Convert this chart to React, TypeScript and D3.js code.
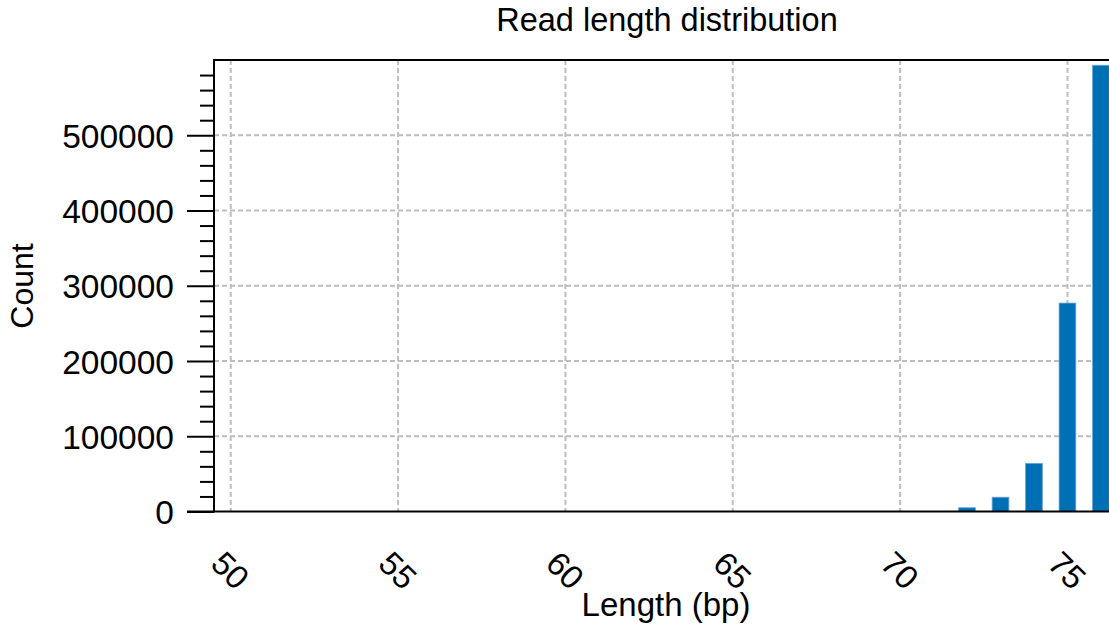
import React, { useRef, useEffect } from "react";
import * as d3 from "d3";

// read lengths (bp) and counts
const lengths = [72, 73, 74, 75, 76];
const counts = [5000, 19000, 64000, 277000, 593000];
const xTicks = [50, 55, 60, 65, 70, 75];
const yTicks = [0, 100000, 200000, 300000, 400000, 500000];

const width = 1109;
const height = 629;
const margin = { top: 60, left: 214, bottom: 511.5, right: 1121 };
const font = "'Liberation Sans', Arial, sans-serif";

const App = () => {
  let ref = useRef(null);

  useEffect(() => {
    let svg = d3.select(ref.current);
    svg.selectAll("*").remove();

    let x = d3.scaleLinear().domain([49.5, 76.6]).range([margin.left, margin.right]);
    let y = d3.scaleLinear().domain([0, 600000]).range([margin.bottom, margin.top]);

    // grid
    let grid = svg.append("g").attr("stroke", "#bdbdbd").attr("stroke-width", 2).attr("stroke-dasharray", "5,3");
    grid
      .selectAll("line.v")
      .data(xTicks)
      .enter()
      .append("line")
      .attr("x1", d => x(d))
      .attr("x2", d => x(d))
      .attr("y1", margin.top)
      .attr("y2", margin.bottom);
    grid
      .selectAll("line.h")
      .data(yTicks.filter(d => d > 0))
      .enter()
      .append("line")
      .attr("x1", margin.left)
      .attr("x2", margin.right)
      .attr("y1", d => y(d))
      .attr("y2", d => y(d));

    // bars
    let barW = x(0.5) - x(0);
    svg
      .append("g")
      .selectAll("rect")
      .data(lengths)
      .enter()
      .append("rect")
      .attr("x", d => x(d - 0.25))
      .attr("width", barW)
      .attr("y", (d, i) => y(counts[i]))
      .attr("height", (d, i) => y(0) - y(counts[i]))
      .attr("fill", "#0070b6")
      .attr("stroke", "#6aa6d4")
      .attr("stroke-width", 0.8);

    // y axis: minor then major ticks
    let minor = d3.range(0, 600000, 20000).filter(d => d % 100000 !== 0);
    svg
      .append("g")
      .attr("transform", `translate(${margin.left},0)`)
      .call(d3.axisLeft(y).tickValues(minor).tickSize(14).tickFormat(() => ""))
      .call(g => g.select(".domain").remove())
      .selectAll("line")
      .attr("stroke", "#000")
      .attr("stroke-width", 2);

    let yAxis = svg
      .append("g")
      .attr("transform", `translate(${margin.left},0)`)
      .call(d3.axisLeft(y).tickValues(yTicks).tickSize(27).tickPadding(13).tickFormat(d3.format("d")));
    yAxis.select(".domain").remove();
    yAxis.selectAll("line").attr("stroke", "#000").attr("stroke-width", 2);
    yAxis
      .selectAll("text")
      .attr("fill", "#000")
      .style("font-family", font)
      .style("font-size", "33.5px")
      .attr("dy", "0.36em");

    // x tick labels, rotated
    svg
      .append("g")
      .selectAll("text")
      .data(xTicks)
      .enter()
      .append("text")
      .attr("transform", d => `translate(${x(d)},570) rotate(45)`)
      .attr("text-anchor", "middle")
      .attr("dy", "0.36em")
      .style("font-family", font)
      .style("font-size", "33px")
      .text(d => d);

    // frame
    let frame = svg.append("g").attr("stroke", "#000").attr("stroke-width", 2);
    frame.append("line").attr("x1", margin.left - 27).attr("x2", margin.right).attr("y1", margin.bottom).attr("y2", margin.bottom);
    frame.append("line").attr("x1", margin.left).attr("x2", margin.right).attr("y1", margin.top).attr("y2", margin.top);
    frame.append("line").attr("x1", margin.left).attr("x2", margin.left).attr("y1", margin.top - 1).attr("y2", margin.bottom + 1);

    // titles
    svg
      .append("text")
      .attr("x", 667)
      .attr("y", 31)
      .attr("text-anchor", "middle")
      .style("font-family", font)
      .style("font-size", "32.5px")
      .text("Read length distribution");
    svg
      .append("text")
      .attr("x", 666)
      .attr("y", 616)
      .attr("text-anchor", "middle")
      .style("font-family", font)
      .style("font-size", "33px")
      .text("Length (bp)");
    svg
      .append("text")
      .attr("transform", "translate(33,286) rotate(-90)")
      .attr("text-anchor", "middle")
      .style("font-family", font)
      .style("font-size", "32px")
      .text("Count");
  }, []);

  return (
    <svg
      ref={ref}
      width={width}
      height={height}
      style={{ position: "absolute", left: 0, top: 0, background: "#fff" }}
    />
  );
};

export default App;
